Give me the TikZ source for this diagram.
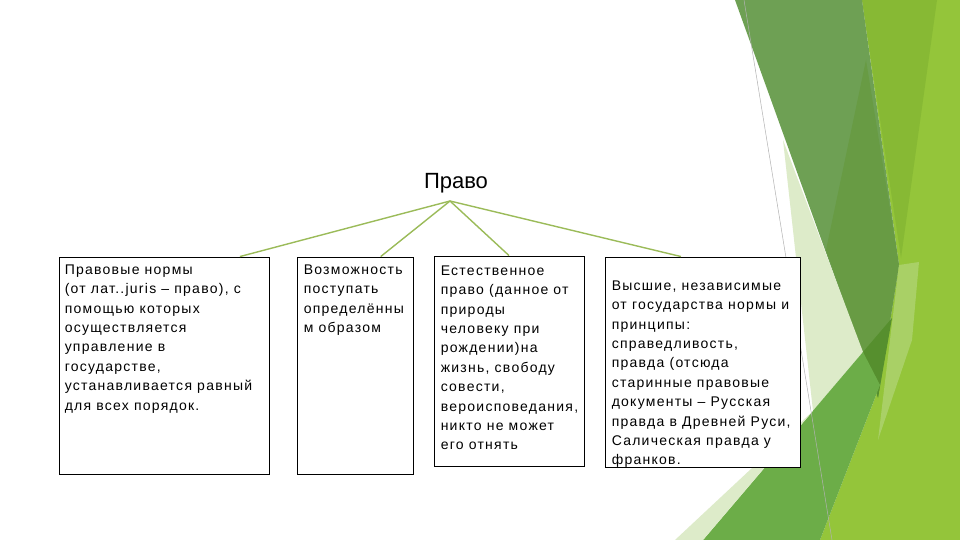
\documentclass[tikz,border=0pt]{standalone}
\usepackage{fontspec}
\setmainfont{Liberation Sans}
\newfontfamily\boxfont[LetterSpace=9]{Liberation Sans}
\usetikzlibrary{positioning,calc}
\definecolor{linkgreen}{RGB}{155,187,89}
\definecolor{facetbright}{RGB}{148,197,58}
\definecolor{facetmid}{RGB}{135,185,52}
\definecolor{facetband}{RGB}{110,160,84}
\definecolor{facetdark}{RGB}{104,155,68}
\definecolor{facetdeep}{RGB}{86,143,46}
\definecolor{facetlow}{RGB}{108,173,72}
\definecolor{facetpale}{RGB}{221,235,201}
\definecolor{facetlight}{RGB}{169,208,102}

\begin{document}
\begin{tikzpicture}[x=1pt,y=-1pt,
  box/.style={draw=black,fill=white,line width=0.9pt,inner sep=0pt},
  txt/.style={font=\boxfont\fontsize{14}{19.4}\selectfont,align=left,anchor=north west,inner sep=0pt},
  link/.style={linkgreen,line width=1.4pt},
]
\useasboundingbox (0,0) rectangle (960,540);
\fill[white] (0,0) rectangle (960,540);
% facets on the right
\fill[facetbright] (862,0) -- (960,0) -- (960,540) -- (820,540) -- (880,385) -- (899,265) -- cycle;
\fill[facetmid] (862,0) -- (937,0) -- (901,258) -- cycle;
\fill[facetband] (735,0) -- (862,0) -- (899,265) -- (878,397) -- cycle;
\fill[facetdark] (866,60) -- (899,265) -- (878,397) -- (826,250) -- cycle;
\fill[facetdeep] (863,352) -- (892,318) -- (878,398) -- cycle;
\fill[facetlight] (899,265) -- (919,262) -- (912,340) -- (878,440) -- cycle;
\fill[facetpale] (783,140) -- (863,352) -- (813,411) -- cycle;
\fill[facetlow] (863,352) -- (880,385) -- (820,540) -- (703,540) -- cycle;
\fill[facetpale] (813,411) -- (703,540) -- (675,540) -- cycle;
\draw[gray!60,line width=0.5pt] (744,0) -- (832,540);
% title
\node[font=\fontsize{22}{26}\selectfont] (pravo) at (456,183) {Право};
\coordinate (root) at (450,201);
% boxes
\node[box,minimum width=210pt,minimum height=217pt] (b1) at (164,365.5) {};
\node[box,minimum width=116pt,minimum height=217pt] (b2) at (355,365.5) {};
\node[box,minimum width=150pt,minimum height=210pt] (b3) at (509,361) {};
\node[box,minimum width=195pt,minimum height=210pt] (b4) at (702.5,362) {};
% links
\draw[link] (root) -- ($(b1.north west)!.86!(b1.north east)$);
\draw[link] (root) -- ($(b2.north west)!.72!(b2.north east)$);
\draw[link] (root) -- (b3.north);
\draw[link] (root) -- ($(b4.north west)!.39!(b4.north east)$);
% texts
\node[txt] (t1) at ([xshift=6pt,yshift=-8pt]b1.north west) {Правовые нормы\\(от лат..juris – право), с\\помощью которых\\осуществляется\\управление в\\государстве,\\устанавливается равный\\для всех порядок.};
\node[txt] (t2) at ([xshift=7pt,yshift=-8pt]b2.north west) {Возможность\\поступать\\определённы\\м образом};
\node[txt] (t3) at ([xshift=7pt,yshift=-10pt]b3.north west) {Естественное\\право (данное от\\природы\\человеку при\\рождении)на\\жизнь, свободу\\совести,\\вероисповедания,\\никто не может\\его отнять};
\node[txt] (t4) at ([xshift=7pt,yshift=-24pt]b4.north west) {Высшие, независимые\\от государства нормы и\\принципы:\\справедливость,\\правда (отсюда\\старинные правовые\\документы – Русская\\правда в Древней Руси,\\Салическая правда у\\франков.};
\end{tikzpicture}
\end{document}
